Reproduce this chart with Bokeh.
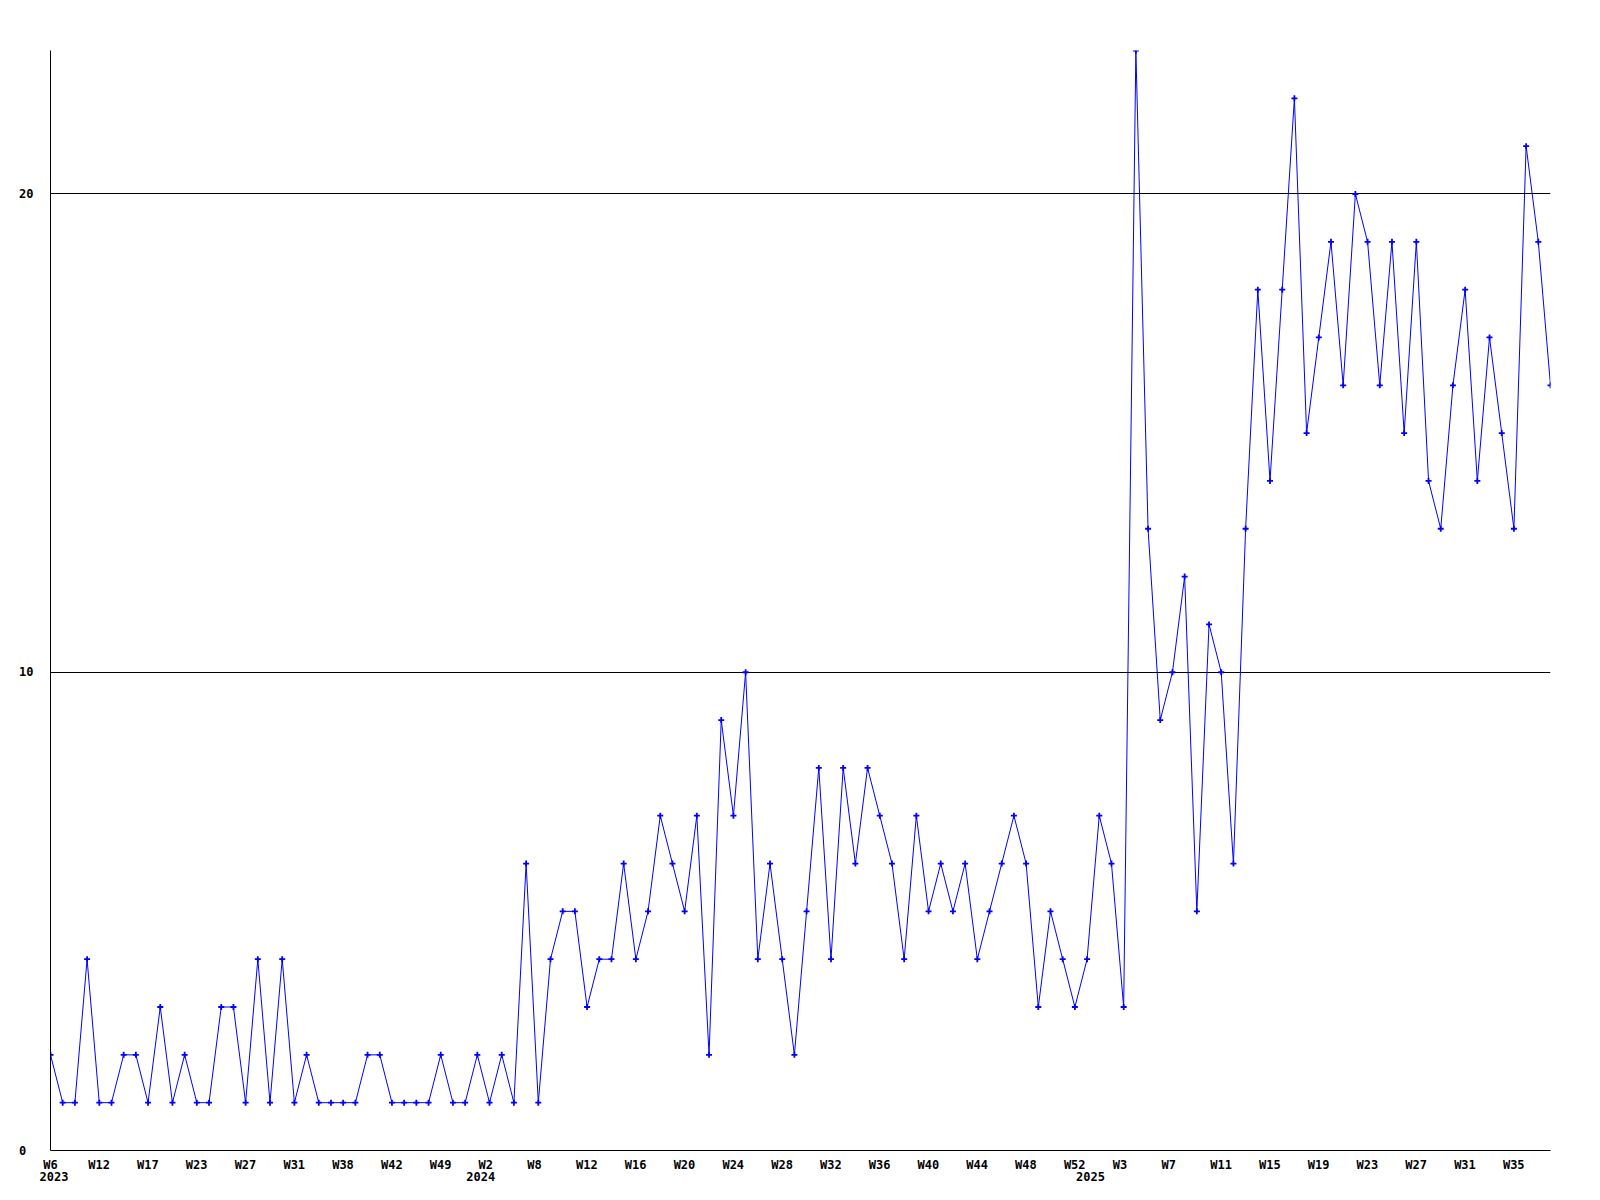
from bokeh.plotting import figure
from bokeh.models import Range1d, FixedTicker, ColumnDataSource
from bokeh.embed import file_html
from bokeh.resources import INLINE

# weekly counts, 2023-W6 .. 2025-W38 (weeks without data are skipped)
values = [
    2, 1, 1, 4, 1, 1, 2, 2, 1, 3, 1, 2, 1, 1, 3, 3, 1, 4, 1, 4,
    1, 2, 1, 1, 1, 1, 2, 2, 1, 1, 1, 1, 2, 1, 1, 2, 1, 2, 1, 6,
    1, 4, 5, 5, 3, 4, 4, 6, 4, 5, 7, 6, 5, 7, 2, 9, 7, 10, 4, 6,
    4, 2, 5, 8, 4, 8, 6, 8, 7, 6, 4, 7, 5, 6, 5, 6, 4, 5, 6, 7,
    6, 3, 5, 4, 3, 4, 7, 6, 3, 23, 13, 9, 10, 12, 5, 11, 10, 6, 13, 18,
    14, 18, 22, 15, 17, 19, 16, 20, 19, 16, 19, 15, 19, 14, 13, 16, 18, 14, 17, 15,
    13, 21, 19, 16,
]
positions = list(range(len(values)))

week_tick_pos = [0, 4, 8, 12, 16, 20, 24, 28, 32, 36, 40, 44, 48, 52, 56, 60,
                 64, 68, 72, 76, 80, 84, 88, 92, 96, 100, 104, 108, 112, 116, 120]
week_tick_labels = ["W6", "W12", "W17", "W23", "W27", "W31", "W38", "W42", "W49",
                    "W2", "W8", "W12", "W16", "W20", "W24", "W28", "W32", "W36",
                    "W40", "W44", "W48", "W52", "W3", "W7", "W11", "W15", "W19",
                    "W23", "W27", "W31", "W35"]
year_tick_pos = [0, 35, 85]
year_tick_labels = ["2023", "2024", "2025"]

y_ticks = [0, 10, 20]
y_tick_labels = {0: "0\u00a0", 10: "10", 20: "20"}

FONT = "DejaVu Sans Mono"
FONT_PX = 12
CHAR_W = 0.602 * FONT_PX

FRAME_W, FRAME_H = 1500, 1100
step = FRAME_W / (len(values) - 1)

src = ColumnDataSource(data=dict(x=positions, y=values))

p = figure(frame_width=FRAME_W, frame_height=FRAME_H, output_backend="svg",
           toolbar_location=None,
           x_range=Range1d(0, len(values) - 1), y_range=Range1d(0, 23),
           min_border_left=50, min_border_top=50, min_border_right=50,
           min_border_bottom=42)
p.outline_line_color = None
p.background_fill_color = "white"
p.border_fill_color = "white"
p.xgrid.visible = False

# y axis
p.yaxis.ticker = FixedTicker(ticks=y_ticks)
p.yaxis.major_label_overrides = y_tick_labels
p.yaxis.axis_line_color = "black"
p.yaxis.axis_line_width = 1
p.yaxis.major_tick_out = 0
p.yaxis.major_tick_in = 0
p.yaxis.minor_tick_out = 0
p.yaxis.minor_tick_in = 0
p.yaxis.major_label_standoff = 17
p.yaxis.major_label_text_font = FONT
p.yaxis.major_label_text_font_style = "bold"
p.yaxis.major_label_text_font_size = f"{FONT_PX}px"
p.yaxis.major_label_text_color = "black"

p.ygrid.ticker = FixedTicker(ticks=y_ticks)
p.ygrid.grid_line_color = "black"
p.ygrid.grid_line_width = 1

# x axis: each label starts 11px left of its week's position (kept inside range)
def label_pos(i, text):
    return max(0.0, round(i + (-11 + len(text) * CHAR_W / 2) / step, 3))

labels = {}
for pos, lab in zip(week_tick_pos, week_tick_labels):
    labels[label_pos(pos, lab)] = lab
for pos, lab in zip(year_tick_pos, year_tick_labels):
    key = label_pos(pos, lab)
    labels[key] = labels.get(key, "") + "\n" + lab

xa = p.xaxis[0]
xa.ticker = FixedTicker(ticks=sorted(labels))
xa.major_label_overrides = labels
xa.axis_line_color = "black"
xa.axis_line_width = 1
xa.major_tick_out = 0
xa.major_tick_in = 0
xa.minor_tick_out = 0
xa.minor_tick_in = 0
xa.major_label_standoff = 7
xa.major_label_text_font = FONT
xa.major_label_text_font_style = "bold"
xa.major_label_text_font_size = f"{FONT_PX}px"
xa.major_label_text_line_height = 0.9
xa.major_label_text_color = "black"

p.line("x", "y", source=src, line_color="#0000ff", line_width=1)
p.scatter("x", "y", source=src, marker="cross", size=6, line_width=1.8,
          line_color="#0000ff")

open("out.html", "w").write(file_html(p, INLINE))
